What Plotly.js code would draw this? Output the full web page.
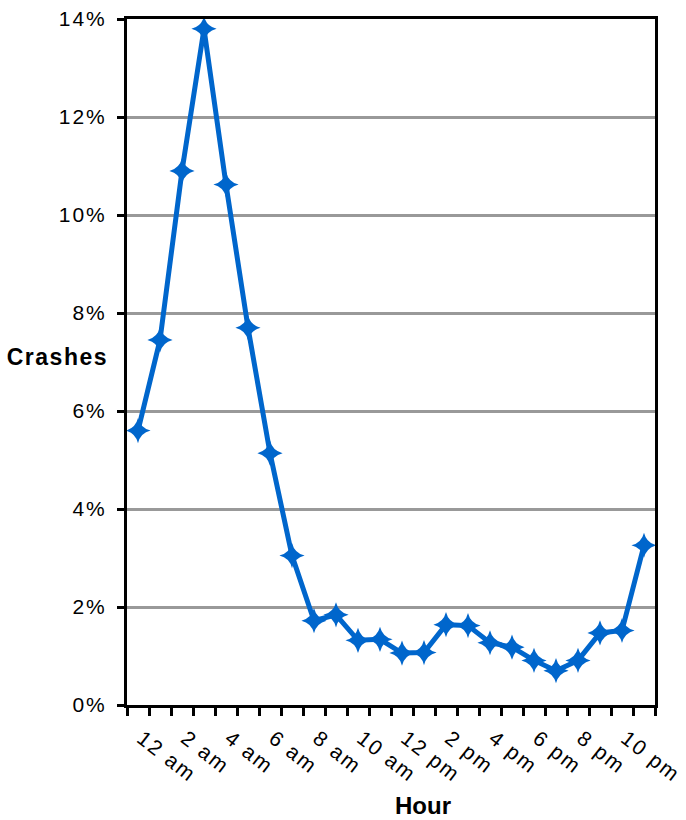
<!DOCTYPE html>
<html><head><meta charset="utf-8">
<script src="https://cdn.plot.ly/plotly-3.0.1.min.js"></script>
<style>
body{margin:0;padding:0;background:#fff}#chart{width:686px;height:820px}
#chart .xtick text, #chart .ytick text{letter-spacing:2px}
#chart .annotation-text.ylab{letter-spacing:1.5px}
</style>
</head><body><div id="chart"></div>
<script>
const hours = [0,1,2,3,4,5,6,7,8,9,10,11,12,13,14,15,16,17,18,19,20,21,22,23];
const crashes = [5.6,7.45,10.9,13.8,10.62,7.7,5.14,3.05,1.72,1.84,1.32,1.34,1.06,1.07,1.64,1.62,1.27,1.18,0.91,0.7,0.91,1.47,1.52,3.26];
const labelHours = [0,2,4,6,8,10,12,14,16,18,20,22];
const hourLabels = ["12 am","2 am","4 am","6 am","8 am","10 am","12 pm","2 pm","4 pm","6 pm","8 pm","10 pm"];
const yTicks = [0,2,4,6,8,10,12,14];
const yLabels = ["0%","2%","4%","6%","8%","10%","12%","14%"];

const trace = {
  x: hours, y: crashes, type: 'scatter', mode: 'lines+markers',
  line: {color: '#0066CC', width: 5},
  marker: {symbol: 'star-diamond', size: 18, color: '#0066CC'},
  hoverinfo: 'skip'
};
const ff = 'Liberation Sans, Arial, sans-serif';
const font = {family: ff, size: 21, color: '#000'};
const layout = {
  width: 686, height: 820,
  margin: {l: 127, r: 31, t: 19, b: 115},
  paper_bgcolor: '#fff', plot_bgcolor: '#fff',
  showlegend: false,
  font: font,
  xaxis: {
    range: [-0.5, 23.5], tickvals: labelHours, ticktext: hourLabels,
    ticks: '', tickangle: 38, tickfont: font, ticklabelstandoff: 10, ticklabelshift: 4,
    showgrid: false, zeroline: false,
    showline: true, linecolor: '#000', linewidth: 3, mirror: true,
    minor: {tick0: -0.5, dtick: 1, ticks: 'outside', ticklen: 8, tickwidth: 3, tickcolor: '#000', showgrid: false}
  },
  yaxis: {
    range: [0, 14], tickvals: yTicks, ticktext: yLabels,
    ticks: 'outside', ticklen: 7, tickwidth: 3, tickcolor: '#000',
    tickfont: font, ticklabelstandoff: 6,
    showgrid: true, gridcolor: '#999', gridwidth: 3,
    zeroline: false,
    showline: true, linecolor: '#000', linewidth: 3, mirror: true
  },
  annotations: [
    {text: '<b>Crashes</b>', xref: 'paper', yref: 'y', x: 0, y: 7.1, xanchor: 'right', xshift: -22,
     showarrow: false, font: {family: ff, size: 23, color: '#000'}},
    {text: '<b>Hour</b>', xref: 'paper', yref: 'paper', x: 0.56, y: 0, yanchor: 'middle', yshift: -100,
     showarrow: false, font: {family: ff, size: 24, color: '#000'}}
  ]
};
Plotly.newPlot('chart', [trace], layout, {displayModeBar: false, staticPlot: true}).then(function(){
  const t = document.querySelectorAll('#chart .annotation-text');
  if (t.length) t[0].classList.add('ylab');
});
</script></body></html>
